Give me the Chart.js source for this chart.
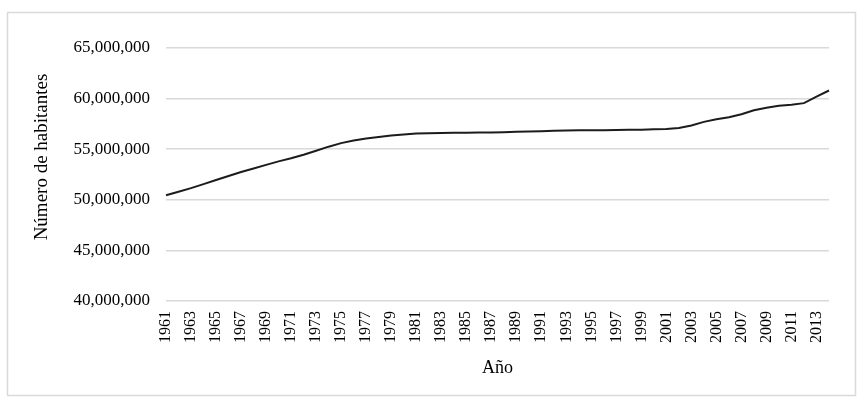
<!DOCTYPE html>
<html>
<head>
<meta charset="utf-8">
<script src="https://cdn.jsdelivr.net/npm/chart.js@4.4.0/dist/chart.umd.min.js"></script>
<style>
  html, body { margin: 0; padding: 0; background: #fff; }
  #wrap { width: 864px; height: 406px; position: relative; }
</style>
</head>
<body>
<div id="wrap"><canvas id="c" width="864" height="406"></canvas></div>
<script>
const years = [];
for (let y = 1961; y <= 2014; y++) years.push(String(y));

const population = [
  50450000, 50800000, 51150000, 51550000, 51950000, 52350000, 52750000, 53100000, 53450000, 53800000,
  54100000, 54450000, 54850000, 55250000, 55600000, 55850000, 56050000, 56200000, 56350000, 56450000,
  56550000, 56580000, 56600000, 56620000, 56630000, 56640000, 56650000, 56680000, 56720000, 56750000,
  56780000, 56820000, 56860000, 56870000, 56880000, 56880000, 56900000, 56910000, 56920000, 56960000,
  57000000, 57100000, 57350000, 57700000, 57950000, 58150000, 58450000, 58850000, 59100000, 59300000,
  59400000, 59550000, 60200000, 60800000
];

const yTicks = [40000000, 45000000, 50000000, 55000000, 60000000, 65000000];
const yTitle = 'Número de habitantes';
const xTitle = 'Año';

const frame = {
  id: 'frame',
  beforeDraw(chart) {
    const ctx = chart.ctx;
    ctx.save();
    ctx.fillStyle = '#ffffff';
    ctx.fillRect(0, 0, chart.width, chart.height);
    ctx.strokeStyle = '#d9d9d9';
    ctx.lineWidth = 1.5;
    ctx.strokeRect(7.5, 12.5, 848, 383);
    ctx.restore();
  },
  afterDraw(chart) {
    const ctx = chart.ctx;
    ctx.save();
    ctx.translate(42, 157);
    ctx.rotate(-Math.PI / 2);
    ctx.fillStyle = '#000';
    ctx.font = '19px "Liberation Serif"';
    ctx.textAlign = 'center';
    ctx.textBaseline = 'middle';
    ctx.fillText(yTitle, 0, 0);
    ctx.restore();
  }
};

new Chart(document.getElementById('c'), {
  type: 'line',
  data: {
    labels: years,
    datasets: [{
      data: population,
      borderColor: '#1c1c1c',
      borderWidth: 2,
      pointRadius: 0,
      tension: 0,
      fill: false
    }]
  },
  options: {
    responsive: false,
    animation: false,
    layout: { padding: { left: 8, right: 35, top: 48, bottom: 0 } },
    plugins: { legend: { display: false }, tooltip: { enabled: false } },
    scales: {
      x: {
        offset: false,
        grid: { display: false, drawTicks: false },
        border: { display: false },
        ticks: {
          autoSkip: false,
          minRotation: 90,
          maxRotation: 90,
          padding: 10,
          color: '#000',
          font: { family: 'Liberation Serif', size: 16 },
          callback: function(v, i) { return i % 2 === 0 ? years[i] : ''; }
        },
        title: {
          display: true,
          text: xTitle,
          color: '#000',
          font: { family: 'Liberation Serif', size: 18 },
          padding: { top: 0, bottom: 27 }
        },
        afterFit(scale) { scale.height = 105; }
      },
      y: {
        min: 40000000,
        max: 65000000,
        afterBuildTicks(scale) { scale.ticks = yTicks.map(v => ({ value: v })); },
        grid: { color: '#d9d9d9', lineWidth: 1.5, drawTicks: false },
        border: { display: false },
        ticks: {
          padding: 16,
          color: '#000',
          font: { family: 'Liberation Serif', size: 17 },
          callback: v => Number(v).toLocaleString('en-US')
        },
        afterFit(scale) { scale.width = 158; }
      }
    }
  },
  plugins: [frame]
});
</script>
</body>
</html>
